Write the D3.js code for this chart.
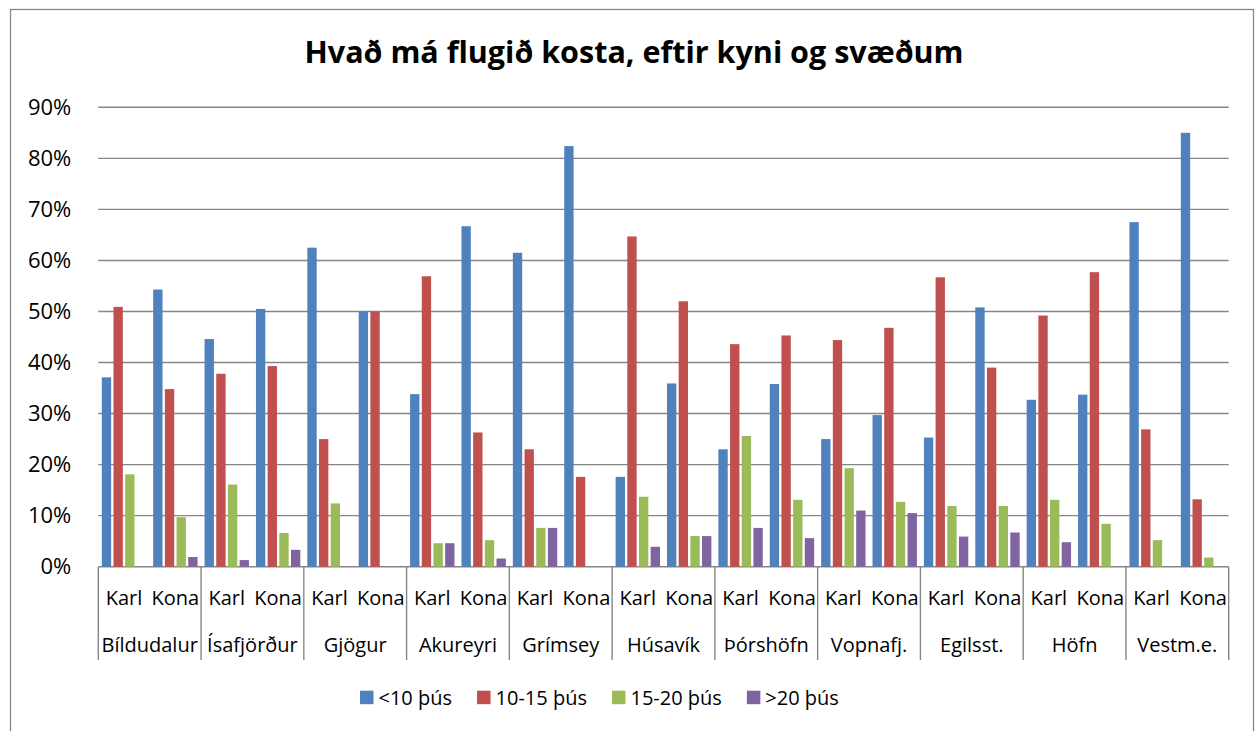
<!DOCTYPE html>
<html>
<head>
<meta charset="utf-8">
<script src="https://cdn.jsdelivr.net/npm/d3@7"></script>
<style>
  body { margin: 0; background: #fff; }
  text { font-family: "Open Sans", sans-serif; fill: #000; }
</style>
</head>
<body>
<div id="chart"></div>
<script>
// Regions and genders along the x axis
const regions = ["Bíldudalur", "Ísafjörður", "Gjögur", "Akureyri", "Grímsey", "Húsavík",
                 "Þórshöfn", "Vopnafj.", "Egilsst.", "Höfn", "Vestm.e."];
const genders = ["Karl", "Kona"];
const seriesNames = ["<10 þús", "10-15 þús", "15-20 þús", ">20 þús"];
const seriesColors = ["#4F81BD", "#C0504D", "#9BBB59", "#8064A2"];
const yTicks = [0, 10, 20, 30, 40, 50, 60, 70, 80, 90];

// Percent values, order: region by region, Karl then Kona
const under10 = [37.1, 54.3, 44.6, 50.5, 62.5, 50.0, 33.8, 66.7, 61.5, 82.4, 17.6,
                 35.9, 23.0, 35.8, 25.0, 29.7, 25.3, 50.8, 32.7, 33.7, 67.5, 85.0];
const from10to15 = [50.9, 34.8, 37.8, 39.3, 25.0, 50.0, 56.9, 26.3, 23.0, 17.6, 64.7,
                    52.0, 43.6, 45.3, 44.4, 46.8, 56.7, 39.0, 49.2, 57.7, 26.9, 13.2];
const from15to20 = [18.1, 9.7, 16.1, 6.6, 12.4, 0, 4.6, 5.2, 7.6, 0, 13.7,
                    6.0, 25.6, 13.1, 19.3, 12.7, 11.9, 11.9, 13.1, 8.4, 5.2, 1.8];
const over20 = [0, 1.9, 1.3, 3.3, 0, 0, 4.6, 1.6, 7.6, 0, 3.9,
                6.0, 7.6, 5.6, 11.0, 10.5, 5.9, 6.7, 4.8, 0, 0, 0];

const seriesValues = [under10, from10to15, from15to20, over20];

// Build rows: one per region/gender
const rows = [];
regions.forEach((r, i) => {
    genders.forEach((g, j) => {
        const k = i * 2 + j;
        rows.push({ key: r + "|" + g, region: r, gender: g,
                    values: seriesNames.map((s, si) => ({ s, v: seriesValues[si][k] })) });
    });
});

const W = 1258, H = 731;
const plot = { left: 98.3, right: 1228.7, top: 107.3, bottom: 566.7 };

const svg = d3.select("#chart").append("svg")
    .attr("width", W).attr("height", H);

// Chart border
svg.append("rect")
    .attr("x", 10.5).attr("y", 9.5)
    .attr("width", 1243).attr("height", 740)
    .attr("fill", "#fff").attr("stroke", "#898989").attr("stroke-width", 1.3);

// Scales
const x = d3.scaleBand()
    .domain(rows.map(d => d.key))
    .range([plot.left, plot.right])
    .padding(0);

const xSub = d3.scaleBand()
    .domain(seriesNames)
    .range([0, x.bandwidth()])
    .paddingInner(0.2)
    .paddingOuter(0.3);

const y = d3.scaleLinear()
    .domain([0, 90])
    .range([plot.bottom, plot.top]);

const color = d3.scaleOrdinal().domain(seriesNames).range(seriesColors);

// Title
svg.append("text")
    .attr("x", 634).attr("y", 63)
    .attr("text-anchor", "middle")
    .style("font-size", "30.5px")
    .style("font-weight", "bold")
    .text("Hvað má flugið kosta, eftir kyni og svæðum");

// Gridlines
svg.append("g")
    .selectAll("line")
    .data(yTicks)
    .enter()
    .append("line")
    .attr("x1", plot.left).attr("x2", plot.right)
    .attr("y1", d => y(d)).attr("y2", d => y(d))
    .attr("stroke", "#868686").attr("stroke-width", 1.4);

// Y axis labels
const yAxis = svg.append("g")
    .attr("transform", `translate(${plot.left - 24},0)`)
    .call(d3.axisLeft(y).tickValues(yTicks).tickSize(0).tickFormat(d => d + "%"));
yAxis.select(".domain").remove();
yAxis.selectAll("text")
    .style("font-size", "22px")
    .style("font-family", "'Open Sans', sans-serif")
    .attr("fill", "#000");

// Bars
svg.append("g")
    .selectAll("g")
    .data(rows)
    .enter()
    .append("g")
    .attr("transform", d => `translate(${x(d.key)},0)`)
    .selectAll("rect")
    .data(d => d.values.filter(v => v.v > 0))
    .enter()
    .append("rect")
    .attr("x", d => xSub(d.s))
    .attr("y", d => y(d.v))
    .attr("width", xSub.bandwidth())
    .attr("height", d => y(0) - y(d.v))
    .attr("fill", d => color(d.s));

// X axis: region separators
const regionWidth = x.bandwidth() * 2;
svg.append("g")
    .selectAll("line")
    .data(d3.range(regions.length + 1))
    .enter()
    .append("line")
    .attr("x1", i => plot.left + i * regionWidth)
    .attr("x2", i => plot.left + i * regionWidth)
    .attr("y1", plot.bottom).attr("y2", 660)
    .attr("stroke", "#868686").attr("stroke-width", 1.4);

// Gender labels
svg.append("g")
    .selectAll("text")
    .data(rows)
    .enter()
    .append("text")
    .attr("x", d => x(d.key) + x.bandwidth() / 2)
    .attr("y", 605)
    .attr("text-anchor", "middle")
    .style("font-size", "20px")
    .text(d => d.gender);

// Region labels
svg.append("g")
    .selectAll("text")
    .data(regions)
    .enter()
    .append("text")
    .attr("x", (d, i) => plot.left + (i + 0.5) * regionWidth)
    .attr("y", 652)
    .attr("text-anchor", "middle")
    .style("font-size", "20px")
    .text(d => d);

// Legend
const legend = svg.append("g").attr("transform", "translate(360,0)");
let lx = 0;
seriesNames.forEach((s, i) => {
    const item = legend.append("g").attr("transform", `translate(${lx},0)`);
    item.append("rect")
        .attr("x", 0).attr("y", 690.7)
        .attr("width", 13.5).attr("height", 13.5)
        .attr("fill", color(s));
    const t = item.append("text")
        .attr("x", 18.5).attr("y", 704.5)
        .style("font-size", "20px")
        .text(s);
    lx += 18.5 + t.node().getComputedTextLength() + 25;
});
</script>
</body>
</html>
